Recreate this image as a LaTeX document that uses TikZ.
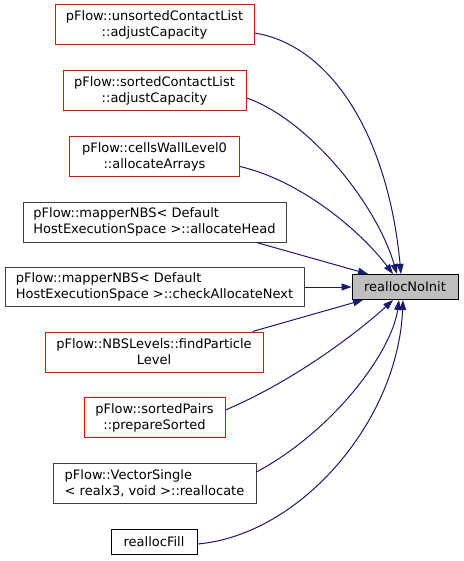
\documentclass[tikz,border=0pt]{standalone}
\usepackage{fontspec}
\setmainfont{DejaVu Sans}
\usetikzlibrary{arrows.meta}
\definecolor{edgec}{HTML}{191970}
\definecolor{redc}{HTML}{FF0000}
\definecolor{greyc}{HTML}{404040}
\definecolor{fillc}{HTML}{BFBFBF}

\begin{document}
\begin{tikzpicture}[x=1pt, y=-1pt,
  box/.style={draw=greyc, line width=1pt, fill=white, minimum height=40pt, inner sep=0pt, font=\fontsize{13}{16}\selectfont},
  redbox/.style={box, draw=redc},
  call/.style={edgec, line width=1pt, -{Triangle[length=10pt,width=7pt]}}]
  \useasboundingbox (0,0) rectangle (463,561);
  \node[redbox, minimum width=199pt, align=center] (uca) at (154.5,25) {pFlow::unsortedContactList\\::adjustCapacity};
  \node[redbox, minimum width=183pt, align=center] (sca) at (154.5,91) {pFlow::sortedContactList\\::adjustCapacity};
  \node[redbox, minimum width=170pt, align=center] (cwl) at (154.5,156.5) {pFlow::cellsWallLevel0\\::allocateArrays};
  \node[box, minimum width=263pt, align=left] (ah) at (154.5,222) {pFlow::mapperNBS< Default\\HostExecutionSpace >::allocateHead};
  \node[box, minimum width=299pt, minimum height=39pt, align=left] (can) at (154.5,287) {pFlow::mapperNBS< Default\\HostExecutionSpace >::checkAllocateNext};
  \node[redbox, minimum width=218pt, align=center] (nbs) at (154,352) {pFlow::NBSLevels::findParticle\\Level};
  \node[redbox, minimum width=141pt, align=center] (sp) at (154.5,417.5) {pFlow::sortedPairs\\::prepareSorted};
  \node[box, minimum width=203pt, align=left] (vs) at (154.5,483) {pFlow::VectorSingle\\< realx3, void >::reallocate};
  \node[box, draw=black, minimum width=86pt, minimum height=25pt] (rf) at (154,541.5) {reallocFill};
  \node[box, draw=black, fill=fillc, minimum width=106pt, minimum height=25pt] (t) at (405,287) {reallocNoInit};

  \draw[call] ([yshift=-8pt]uca.east) .. controls +(76,12) and +(-13,-139) .. ([xshift=-4pt]t.north);
  \draw[call] ([yshift=-7pt]sca.east) .. controls +(59,20) and +(-22,-74) .. ([xshift=-8pt]t.north);
  \draw[call] ([yshift=-10pt]cwl.east) .. controls +(60,14) and +(-33,-44) .. ([xshift=-12pt]t.north);
  \draw[call] ([xshift=-30pt]ah.south east) -- ([xshift=-37pt]t.north);
  \draw[call] (can.east) -- (t.west);
  \draw[call] ([xshift=-11pt]nbs.north east) -- ([xshift=-42pt]t.south);
  \draw[call] ([yshift=7.5pt]sp.east) .. controls +(75,-32) and +(-28,26) .. ([xshift=-12pt]t.south);
  \draw[call] ([yshift=11pt]vs.east) .. controls +(78,-42) and +(-7,51) .. ([xshift=-6pt]t.south);
  \draw[call] ([yshift=-2.5pt]rf.east) .. controls +(103,-9) and +(-5,121) .. ([xshift=-2pt]t.south);
\end{tikzpicture}
\end{document}
